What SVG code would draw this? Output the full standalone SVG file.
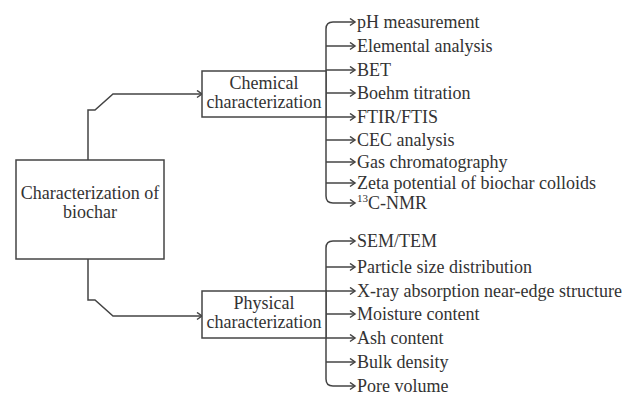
<svg xmlns="http://www.w3.org/2000/svg" width="633" height="403" viewBox="0 0 633 403">
<style>
text{font-family:'Liberation Serif','DejaVu Serif',serif;font-size:18px;fill:#333}
.box{fill:#fff;stroke:#444;stroke-width:1.5}
.ln{fill:none;stroke:#444;stroke-width:1.5;marker-end:url(#ah)}
.br{fill:none;stroke:#444;stroke-width:1.5}
.c{text-anchor:middle}
</style>
<defs>
<marker id="ah" markerUnits="userSpaceOnUse" markerWidth="10" markerHeight="10" refX="6" refY="4" orient="auto">
<path d="M1,0.5 L6,4 L1,7.5" fill="none" stroke="#444" stroke-width="1.5"/>
</marker>
</defs>
<rect width="633" height="403" fill="#fff"/>
<g id="connectors">
<path class="ln" d="M88,160 V110 H95 L113,94 H202"/>
<path class="ln" d="M88,259 V300 H95 L113,316 H202"/>
<path class="br" d="M326,29 V196"/>
<path class="ln" d="M326,29 Q326,22 333,22 H355"/>
<path class="ln" d="M326,46 H355"/>
<path class="ln" d="M326,70 H355"/>
<path class="ln" d="M326,93 H355"/>
<path class="ln" d="M326,117 H355"/>
<path class="ln" d="M326,140 H355"/>
<path class="ln" d="M326,162 H355"/>
<path class="ln" d="M326,183 H355"/>
<path class="ln" d="M326,196 Q326,203 333,203 H355"/>
<path class="br" d="M326,248 V379"/>
<path class="ln" d="M326,248 Q326,241 333,241 H355"/>
<path class="ln" d="M326,267 H355"/>
<path class="ln" d="M326,291 H355"/>
<path class="ln" d="M326,314 H355"/>
<path class="ln" d="M326,338 H355"/>
<path class="ln" d="M326,362 H355"/>
<path class="ln" d="M326,379 Q326,386 333,386 H355"/>
</g>
<g id="root">
<rect class="box" x="16" y="160" width="148" height="99"/>
<text class="c" x="90" y="199">Characterization of</text>
<text class="c" x="90" y="218">biochar</text>
</g>
<g id="chemical">
<rect class="box" x="202" y="71" width="124" height="46"/>
<text class="c" x="264" y="89">Chemical</text>
<text class="c" x="264" y="108">characterization</text>
</g>
<g id="physical">
<rect class="box" x="202" y="291" width="124" height="47"/>
<text class="c" x="264" y="309">Physical</text>
<text class="c" x="264" y="328">characterization</text>
</g>
<g id="chem-items">
<text x="357" y="28">pH measurement</text>
<text x="357" y="52">Elemental analysis</text>
<text x="357" y="76">BET</text>
<text x="357" y="99">Boehm titration</text>
<text x="357" y="123">FTIR/FTIS</text>
<text x="357" y="146">CEC analysis</text>
<text x="357" y="168">Gas chromatography</text>
<text x="357" y="189">Zeta potential of biochar colloids</text>
<text x="357" y="209"><tspan font-size="11" dy="-7">13</tspan><tspan dy="7">C-NMR</tspan></text>
</g>
<g id="phys-items">
<text x="357" y="247">SEM/TEM</text>
<text x="357" y="273">Particle size distribution</text>
<text x="357" y="297">X-ray absorption near-edge structure</text>
<text x="357" y="320">Moisture content</text>
<text x="357" y="344">Ash content</text>
<text x="357" y="368">Bulk density</text>
<text x="357" y="392">Pore volume</text>
</g>
</svg>
